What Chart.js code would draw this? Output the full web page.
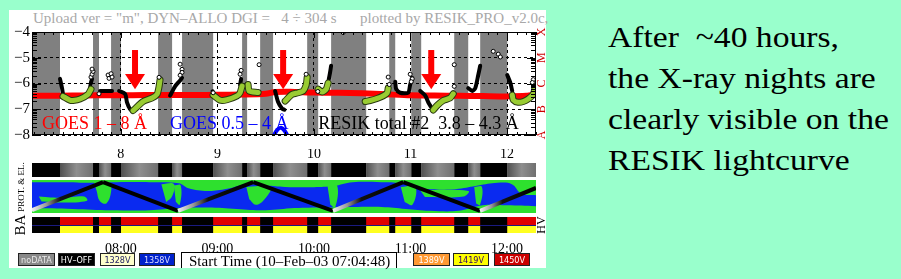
<!DOCTYPE html>
<html>
<head>
<meta charset="utf-8">
<script src="https://cdn.jsdelivr.net/npm/chart.js@4.4.1/dist/chart.umd.min.js"></script>
<style>
body { margin:0; background:#99ffcc; width:901px; height:279px; overflow:hidden; position:relative; font-family:'Liberation Serif','Times New Roman',serif; }
#panel { position:absolute; left:9px; top:10px; width:537px; height:258px; background:#fff; }
canvas { position:absolute; }
.t { position:absolute; white-space:pre; }
.rot { position:absolute; white-space:pre; transform:translate(-50%,-50%) rotate(-90deg); }
.lg { position:absolute; top:253px; height:13px; line-height:13px; border:1px solid #222; box-sizing:border-box;
      font-family:'DejaVu Sans',sans-serif; font-stretch:condensed; font-size:9px; text-align:center; overflow:hidden; }
</style>
</head>
<body>
<div id="panel"></div>
<div class="t" style="left:33px;top:11px;font-size:15px;line-height:15px;color:#a8a8a8">Upload ver = "m", DYN–ALLO DGI =   4 ÷ 304 s</div>
<div class="t" style="left:360px;top:11px;font-size:15px;line-height:15px;color:#a8a8a8">plotted by RESIK_PRO_v2.0c,</div>
<canvas id="main" width="537" height="136" style="left:9px;top:10px"></canvas>
<canvas id="strip" width="537" height="28" style="left:9px;top:149px"></canvas>
<canvas id="orbit" width="504" height="33" style="left:32px;top:180px"></canvas>
<canvas id="ba" width="537" height="42" style="left:9px;top:217px"></canvas>
<div class="rot" style="left:21px;top:187px;font-size:9px">PROT. &amp; EL.</div>
<div class="rot" style="left:20px;top:225px;font-size:15px">BA</div>
<div class="rot" style="left:541px;top:225px;font-size:12px">HV</div>
<div class="lg" style="left:18px;width:37px;background:#888;color:#e8e8e8">noDATA</div>
<div class="lg" style="left:58px;width:37px;background:#000;color:#fff">HV–OFF</div>
<div class="lg" style="left:100px;width:35px;background:#ffffcc;color:#222266">1328V</div>
<div class="lg" style="left:139px;width:36px;background:#0022cc;color:#ddddff">1358V</div>
<div class="lg" style="left:413px;width:37px;background:#ff9933;color:#fff">1389V</div>
<div class="lg" style="left:453px;width:36px;background:#ffff00;color:#330066">1419V</div>
<div class="lg" style="left:494px;width:36px;background:#cc0000;color:#fff">1450V</div>
<div class="t" style="left:181px;top:252px;width:216px;height:16px;border:1px solid #000;border-bottom:none;box-sizing:border-box;background:#fff;font-size:15px;line-height:17px;padding-left:7px">Start Time (10–Feb–03 07:04:48)</div>
<div class="t" style="left:608px;top:16px;font-family:'Liberation Serif','Times New Roman',serif;font-size:30px;line-height:41px;color:#000;transform:scaleX(1.12);transform-origin:0 0">After  ~40 hours,
the X-ray nights are
clearly visible on the
RESIK lightcurve</div>
<script>
Chart.defaults.font.family = "'Liberation Serif', 'Times New Roman', serif";
Chart.defaults.color = '#000';

// time axis (decimal hours, 10 Feb 2003)
const T0 = 7.08, T1 = 12.3;
// satellite nights (start, end) in hours
const nights = [[7.08,7.37],[7.712,7.774],[7.899,8.002],[8.386,8.531],[8.634,8.956],[9.256,9.308],[9.443,9.577],
                [9.930,10.044],[10.178,10.541],[10.780,10.842],[11.008,11.111],[11.453,11.598],[11.722,12.002]];

// GOES 1-8 A, log10 flux
const goesHours = [7.08,7.25,7.5,7.75,8.0,8.25,8.5,8.75,9.0,9.25,9.5,9.6,9.75,10.0,10.25,10.5,10.75,11.0,11.25,11.5,11.75,12.0,12.2,12.3];
const goesLong = [-6.48,-6.48,-6.47,-6.46,-6.46,-6.45,-6.45,-6.45,-6.44,-6.43,-6.40,-6.33,-6.32,-6.35,-6.36,-6.38,-6.42,-6.46,-6.47,-6.48,-6.49,-6.50,-6.48,-6.42];
// GOES 0.5-4 A (only the bit that enters the plot)
const goesShortHours = [9.58,9.62,9.66,9.70,9.73];
const goesShort = [-8.05,-7.8,-7.72,-7.85,-8.05];

// RESIK total #2, night parts (black) and day parts (green)
const resikBlack = [
  [[7.370,-5.82],[7.391,-6.18],[7.401,-6.42]],
  [[7.681,-6.20],[7.691,-5.96],[7.702,-5.82]],
  [[7.785,-6.29],[7.909,-6.29]],
  [[7.982,-6.29],[8.044,-6.40],[8.064,-6.73],[8.096,-7.00],[8.127,-7.08]],
  [[8.510,-6.47],[8.562,-6.11],[8.614,-5.88],[8.634,-5.78]],
  [[8.950,-6.30],[8.966,-6.44]],
  [[9.235,-6.06],[9.246,-5.82]],
  [[9.598,-6.29],[9.629,-6.72],[9.671,-6.98],[9.695,-7.02]],
  [[10.147,-5.98],[10.165,-5.62],[10.178,-5.31]],
  [[10.842,-5.93],[10.852,-6.22],[10.893,-6.36],[10.976,-6.36],[10.997,-6.04],[11.018,-5.78]],
  [[11.101,-6.29],[11.153,-6.47],[11.184,-6.73],[11.236,-7.05]],
  [[11.598,-6.18],[11.640,-6.29],[11.671,-6.18],[11.702,-5.67],[11.722,-5.31]],
  [[12.002,-5.67],[12.033,-5.96],[12.054,-6.29]]
];
const resikGreen = [
  [[7.401,-6.50],[7.474,-6.65],[7.505,-6.66],[7.577,-6.60],[7.660,-6.42],[7.691,-6.22]],
  [[8.127,-7.05],[8.168,-6.91],[8.230,-6.70],[8.324,-6.56],[8.375,-6.42],[8.396,-6.12],[8.406,-5.86]],
  [[8.956,-6.45],[9.028,-6.65],[9.101,-6.63],[9.204,-6.48],[9.235,-6.36],[9.256,-6.10]],
  [[9.318,-6.04],[9.330,-6.29],[9.422,-6.35]],
  [[9.702,-6.68],[9.774,-6.42],[9.836,-6.36],[9.888,-6.29],[9.919,-6.06],[9.930,-5.76]],
  [[10.044,-6.22],[10.085,-6.33],[10.127,-6.22],[10.147,-5.98]],
  [[10.531,-6.70],[10.583,-6.66],[10.655,-6.58],[10.717,-6.48],[10.759,-6.36],[10.769,-6.18]],
  [[11.236,-7.03],[11.277,-6.85],[11.339,-6.66],[11.412,-6.56],[11.443,-6.40]],
  [[12.054,-6.45],[12.065,-6.64],[12.116,-6.73],[12.168,-6.70],[12.220,-6.60],[12.272,-6.42],[12.292,-6.12]]
];
const resikDots = [[7.691,-5.75],[7.702,-5.64],[7.712,-5.53],[7.702,-5.44],[7.774,-6.40],[7.868,-5.67],[7.878,-5.80],
  [7.899,-5.62],[7.909,-5.75],[8.396,-5.76],[8.614,-5.25],[8.634,-5.45],[8.634,-5.57],[8.614,-5.68],[8.956,-6.36],
  [9.235,-5.64],[9.246,-5.49],[9.432,-5.27],[9.919,-5.64],[10.040,-6.31],[10.303,-4.02],[10.769,-5.75],[10.780,-6.04],
  [10.997,-5.64],[11.018,-5.82],[11.008,-5.93],[11.453,-5.27],[11.453,-6.11],[11.857,-4.75],[11.909,-4.86],
  [11.930,-4.97],[12.272,-5.85],[12.262,-5.96]];

// red arrows: hour, top of shaft, base of head, tip
const arrowHours = [8.147, 9.681, 11.215];
const arrowLevels = [-4.70, -5.63, -6.22];

// in-plot captions
const labelTexts = ['GOES 1 – 8 Å', 'GOES 0.5 – 4 Å', 'RESIK total #2  3.8 – 4.3 Å'];
const labelHours = [7.184, 8.51, 10.044];
const labelColors = ['#ff0000', '#0000ff', '#000000'];
const labelLevel = -7.75;

// GOES classes on the right
const classLetters = ['A','B','C','M','X'];
const classLevels = [-8,-7,-6,-5,-4];

// orbit strip: latitude track, green particle zones
const trackHours = [7.08, 7.816, 8.593, 9.371, 10.198, 10.925, 11.721, 12.3];
const trackLat = [-50, 52, -52, 52, -52, 52, -52, 31];
const greenTopHours = [7.08,7.4,7.7,7.95,8.3,8.6,8.7,8.9,9.1,9.3,9.5,9.7,10.0,10.2,10.4,10.7,10.9,11.1,11.3,11.5,11.7,11.9,12.05,12.15,12.3];
const greenTop = [52,52,50,52,52,48,30,20,28,45,40,35,34,38,52,52,48,30,25,28,40,50,45,10,5];
const greenBottomHours = [7.08,7.5,7.9,8.3,8.6,8.9,9.2,9.5,9.8,10.1,10.4,10.7,10.95,11.2,11.5,11.75,12.0,12.3];
const greenBottom = [-42,-45,-50,-50,-42,-40,-45,-50,-42,-40,-38,-38,-45,-52,-52,-32,-32,-35];
const greenBlobs = [
  [[7.15,0],[7.4,-5],[7.62,0],[7.65,-15],[7.4,-22],[7.18,-18]],
  [[7.72,52],[7.88,52],[7.9,20],[7.85,-25],[7.78,-15],[7.75,20]],
  [[8.42,45],[8.55,45],[8.53,0],[8.47,-20]],
  [[8.55,40],[8.62,40],[8.61,-30],[8.57,-20]],
  [[9.3,35],[9.55,35],[9.5,-5],[9.4,-30],[9.33,-10]],
  [[10.14,40],[10.24,40],[10.22,-40],[10.17,-30]],
  [[10.9,35],[11.05,35],[11.02,-30],[10.94,-20]],
  [[11.1,23],[11.6,20],[11.55,0],[11.15,-2]],
  [[11.66,35],[11.74,35],[11.72,-30],[11.68,-25]]
];

function segPoints(segs) {
  const out = [];
  segs.forEach(s => {
    s.forEach(p => out.push({x: p[0], y: p[1]}));
    out.push({x: s[s.length - 1][0], y: null});
  });
  return out;
}

function dayGaps() {
  const gaps = [];
  let t = T0;
  nights.forEach(n => { if (n[0] > t) gaps.push([t, n[0]]); t = n[1]; });
  if (t < T1) gaps.push([t, T1]);
  return gaps;
}

const noLegend = { legend: { display: false }, tooltip: { enabled: false } };

// ---------- main light-curve panel ----------
const mainPlugin = {
  id: 'mainDeco',
  beforeDraw(chart) {
    const { ctx, chartArea: a, scales: { x } } = chart;
    ctx.save();
    ctx.fillStyle = '#808080';
    nights.forEach(n => {
      const x0 = x.getPixelForValue(n[0]), x1 = x.getPixelForValue(n[1]);
      ctx.fillRect(x0, a.top, x1 - x0, a.bottom - a.top);
    });
    ctx.restore();
  },
  afterDraw(chart) {
    const { ctx, chartArea: a, scales: { x, y } } = chart;
    ctx.save();
    // captions
    ctx.font = "18px 'Liberation Serif', serif";
    ctx.textBaseline = 'alphabetic';
    labelTexts.forEach((t, i) => {
      ctx.fillStyle = labelColors[i];
      ctx.fillText(t, x.getPixelForValue(labelHours[i]), y.getPixelForValue(labelLevel));
    });
    // arrows
    ctx.fillStyle = '#ff0000';
    arrowHours.forEach(h => {
      const cx = x.getPixelForValue(h);
      const yt = y.getPixelForValue(arrowLevels[0]), yb = y.getPixelForValue(arrowLevels[1]), yp = y.getPixelForValue(arrowLevels[2]);
      ctx.fillRect(cx - 3, yt, 6, yb - yt + 1);
      ctx.beginPath();
      ctx.moveTo(cx - 10, yb); ctx.lineTo(cx + 10, yb); ctx.lineTo(cx, yp); ctx.closePath();
      ctx.fill();
    });
    // frame and minor ticks
    ctx.strokeStyle = '#000';
    ctx.lineWidth = 1;
    ctx.strokeRect(a.left + 0.5, a.top + 0.5, a.right - a.left - 1, a.bottom - a.top - 1);
    ctx.beginPath();
    for (let n = -8; n < -4; n++) {
      for (let k = 1; k <= 9; k++) {
        const py = Math.round(y.getPixelForValue(n + Math.log10(k))) + 0.5;
        const len = k === 1 ? 9 : 5;
        ctx.moveTo(a.left, py); ctx.lineTo(a.left + len, py);
        ctx.moveTo(a.right, py); ctx.lineTo(a.right - len, py);
      }
    }
    for (let i = Math.ceil(T0 * 10); i <= Math.floor(T1 * 10); i++) {
      const px = Math.round(x.getPixelForValue(i / 10)) + 0.5;
      const len = i % 10 === 0 ? 6 : 3;
      ctx.moveTo(px, a.top); ctx.lineTo(px, a.top + len);
      ctx.moveTo(px, a.bottom); ctx.lineTo(px, a.bottom - len);
    }
    ctx.stroke();
    // GOES class letters
    ctx.fillStyle = '#cc0000';
    ctx.font = "12px 'Liberation Serif', serif";
    ctx.textAlign = 'center';
    ctx.textBaseline = 'middle';
    classLetters.forEach((c, i) => {
      ctx.save();
      ctx.translate(a.right + 6, y.getPixelForValue(classLevels[i]));
      ctx.rotate(-Math.PI / 2);
      ctx.fillText(c, 0, 0);
      ctx.restore();
    });
    ctx.restore();
  }
};

new Chart(document.getElementById('main'), {
  type: 'line',
  data: {
    datasets: [
      { label: 'GOES 1-8', data: goesHours.map((h, i) => ({ x: h, y: goesLong[i] })), borderColor: '#ff0000', borderWidth: 6, order: 6 },
      { label: 'GOES 0.5-4', data: goesShortHours.map((h, i) => ({ x: h, y: goesShort[i] })), borderColor: '#0000ff', borderWidth: 4, order: 5 },
      { label: 'RESIK night', data: segPoints(resikBlack), borderColor: '#000', borderWidth: 4, order: 4 },
      { label: 'edge', data: segPoints(resikGreen), borderColor: '#2a3a10', borderWidth: 7, order: 3 },
      { label: 'RESIK day', data: segPoints(resikGreen), borderColor: '#9c3', borderWidth: 5, order: 2 },
      { label: 'dots', data: resikDots.map(p => ({ x: p[0], y: p[1] })), showLine: false, pointRadius: 2,
        pointBorderColor: '#000', pointBackgroundColor: '#fff', pointBorderWidth: 1, order: 1 }
    ]
  },
  options: {
    responsive: false, animation: false, events: [],
    layout: { padding: { top: 22, bottom: 4, left: 0, right: 10 } },
    plugins: noLegend,
    datasets: { line: { clip: 0, pointRadius: 0, tension: 0.25, borderCapStyle: 'round', borderJoinStyle: 'round', spanGaps: false } },
    scales: {
      x: { type: 'linear', min: T0, max: T1,
           ticks: { display: false, stepSize: 1, includeBounds: false },
           grid: { color: '#000', lineWidth: 1, drawTicks: false },
           border: { display: false, dash: [3, 3] },
           afterFit: s => { s.height = 0; } },
      y: { type: 'linear', min: -8, max: -4,
           ticks: { stepSize: 1, padding: 2, font: { size: 15 }, callback: v => '\u2212' + Math.abs(v) },
           grid: { color: '#000', lineWidth: 1, drawTicks: false },
           border: { display: false, dash: [3, 3] },
           afterFit: s => { s.width = 23; } }
    }
  },
  plugins: [mainPlugin]
});

// ---------- electron / proton grey strip ----------
new Chart(document.getElementById('strip'), {
  type: 'line',
  data: { datasets: [] },
  options: {
    responsive: false, animation: false, events: [],
    layout: { padding: { left: 23, right: 10, top: 0, bottom: 0 } },
    plugins: noLegend,
    scales: {
      x: { type: 'linear', position: 'top', min: T0, max: T1,
           ticks: { stepSize: 1, includeBounds: false, padding: 0, font: { size: 14 } },
           grid: { display: false, drawTicks: false }, border: { display: false },
           afterFit: s => { s.height = 14; } },
      y: { display: false, min: 0, max: 1 }
    }
  },
  plugins: [{
    id: 'grey',
    beforeDatasetsDraw(chart) {
      const { ctx, chartArea: a, scales: { x } } = chart;
      ctx.save();
      dayGaps().forEach(g => {
        const x0 = x.getPixelForValue(g[0]), x1 = x.getPixelForValue(g[1]);
        const grad = ctx.createLinearGradient(x0, 0, x1, 0);
        grad.addColorStop(0, '#505050'); grad.addColorStop(0.5, '#8e8e8e'); grad.addColorStop(1, '#707070');
        ctx.fillStyle = grad;
        ctx.fillRect(x0, a.top, x1 - x0, a.bottom - a.top);
      });
      ctx.fillStyle = '#000';
      nights.forEach(n => {
        const x0 = x.getPixelForValue(n[0]), x1 = x.getPixelForValue(n[1]);
        ctx.fillRect(x0, a.top, x1 - x0, a.bottom - a.top);
      });
      ctx.restore();
    }
  }]
});

// ---------- orbit / particle map strip ----------
const GREEN = '#2ee02e';
new Chart(document.getElementById('orbit'), {
  type: 'line',
  data: {
    datasets: [
      { label: 'track', data: trackHours.map((h, i) => ({ x: h, y: trackLat[i] })), borderColor: '#000', borderWidth: 4, tension: 0,
        segment: { borderColor: c => {
          if (trackLat[c.p0DataIndex] >= trackLat[c.p1DataIndex]) return '#000';
          const g = c.chart.ctx.createLinearGradient(c.p0.x, 0, c.p1.x, 0);
          g.addColorStop(0, '#f0f0f0'); g.addColorStop(0.2, '#999'); g.addColorStop(0.4, '#111'); g.addColorStop(1, '#000');
          return g;
        } } },
      { label: 'top zone', data: greenTopHours.map((h, i) => ({ x: h, y: greenTop[i] })), fill: 'end', backgroundColor: GREEN, borderWidth: 0 },
      { label: 'bottom zone', data: greenBottomHours.map((h, i) => ({ x: h, y: greenBottom[i] })), fill: 'start', backgroundColor: GREEN, borderWidth: 0 },
      ...greenBlobs.map((b, k) => ({ label: 'blob' + k, data: b.map(p => ({ x: p[0], y: p[1] })), fill: 'shape', backgroundColor: GREEN, borderWidth: 0 }))
    ]
  },
  options: {
    responsive: false, animation: false, events: [],
    plugins: noLegend,
    datasets: { line: { pointRadius: 0, tension: 0.4, clip: 0 } },
    scales: {
      x: { type: 'linear', display: false, min: T0, max: T1 },
      y: { display: false, min: -60, max: 60 }
    }
  },
  plugins: [{
    id: 'sea',
    beforeDraw(chart) {
      const { ctx, chartArea: a } = chart;
      ctx.save();
      ctx.fillStyle = '#0a2af0';
      ctx.fillRect(a.left, a.top, a.right - a.left, a.bottom - a.top);
      ctx.restore();
    }
  }]
});

// ---------- HV status strip ----------
new Chart(document.getElementById('ba'), {
  type: 'line',
  data: { datasets: [] },
  options: {
    responsive: false, animation: false, events: [],
    layout: { padding: { left: 23, right: 10, top: 0, bottom: 0 } },
    plugins: noLegend,
    scales: {
      x: { type: 'linear', min: T0, max: T1,
           ticks: { stepSize: 1, includeBounds: false, padding: 8, font: { size: 14 },
                    callback: v => String(v).padStart(2, '0') + ':00' },
           grid: { display: false, drawTicks: false }, border: { display: false },
           afterFit: s => { s.height = 26; } },
      y: { display: false, min: 0, max: 1 }
    }
  },
  plugins: [{
    id: 'hv',
    beforeDatasetsDraw(chart) {
      const { ctx, chartArea: a, scales: { x } } = chart;
      const mid = (a.top + a.bottom) / 2;
      ctx.save();
      ctx.fillStyle = '#e00000';
      ctx.fillRect(a.left, a.top, a.right - a.left, mid - a.top);
      ctx.fillStyle = '#ffff20';
      ctx.fillRect(a.left, mid, a.right - a.left, a.bottom - mid);
      ctx.fillStyle = '#000';
      nights.forEach(n => {
        const x0 = x.getPixelForValue(n[0]), x1 = x.getPixelForValue(n[1]);
        ctx.fillRect(x0, a.top, x1 - x0, a.bottom - a.top);
      });
      ctx.strokeStyle = '#1a1a80';
      ctx.lineWidth = 1;
      ctx.beginPath();
      ctx.moveTo(a.left, Math.round(mid) + 0.5); ctx.lineTo(a.right, Math.round(mid) + 0.5);
      ctx.stroke();
      ctx.restore();
    }
  }]
});
</script>
</body>
</html>
